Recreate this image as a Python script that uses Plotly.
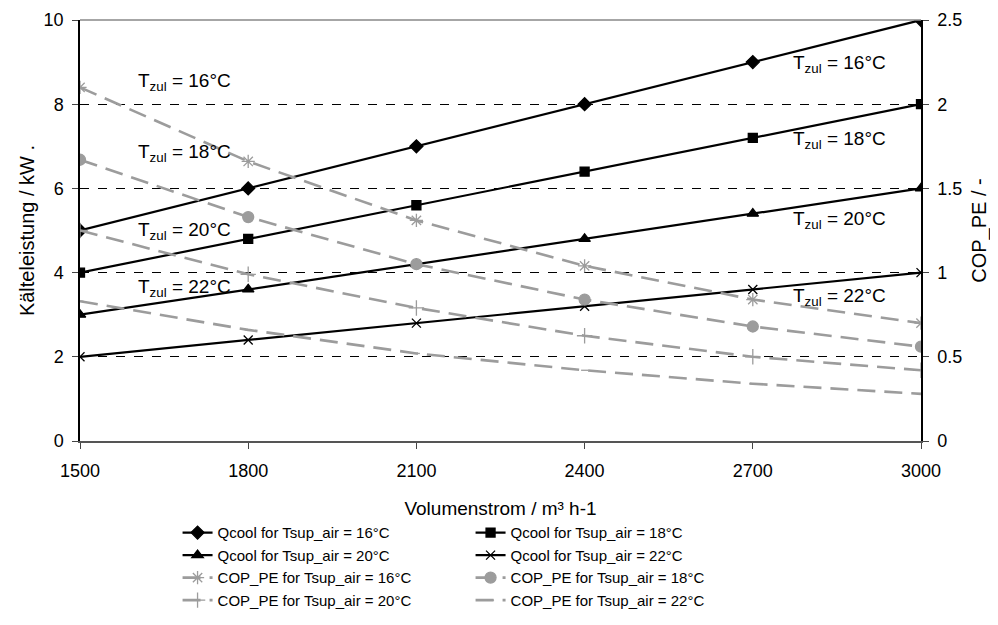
import plotly.graph_objects as go

volumenstrom = [1500, 1800, 2100, 2400, 2700, 3000]

qcool_16 = [5.0, 6.0, 7.0, 8.0, 9.0, 10.0]
qcool_18 = [4.0, 4.8, 5.6, 6.4, 7.2, 8.0]
qcool_20 = [3.0, 3.6, 4.2, 4.8, 5.4, 6.0]
qcool_22 = [2.0, 2.4, 2.8, 3.2, 3.6, 4.0]

cop_16 = [2.10, 1.66, 1.31, 1.04, 0.84, 0.70]
cop_18 = [1.67, 1.33, 1.05, 0.84, 0.68, 0.56]
cop_20 = [1.25, 0.99, 0.79, 0.625, 0.50, 0.42]
cop_22 = [0.83, 0.66, 0.52, 0.42, 0.34, 0.28]

left_ticks = [0, 2, 4, 6, 8, 10]
right_ticks = [0, 0.5, 1, 1.5, 2, 2.5]
x_ticks = [1500, 1800, 2100, 2400, 2700, 3000]

FONT = "Liberation Sans, Arial, sans-serif"
GREY = "#9c9c9c"

fig = go.Figure()

q_series = [
    ("Qcool for Tsup_air = 16°C", qcool_16, "diamond", 10),
    ("Qcool for Tsup_air = 18°C", qcool_18, "square", 9),
    ("Qcool for Tsup_air = 20°C", qcool_20, "triangle-up", 10),
    ("Qcool for Tsup_air = 22°C", qcool_22, "x-thin", 9),
]
c_series = [
    ("COP_PE for Tsup_air = 16°C", cop_16, "asterisk", 11),
    ("COP_PE for Tsup_air = 18°C", cop_18, "circle", 11),
    ("COP_PE for Tsup_air = 20°C", cop_20, "cross-thin", 11),
    ("COP_PE for Tsup_air = 22°C", cop_22, "line-ew", 5),
]

for name, vals, sym, sz in q_series:
    fig.add_trace(go.Scatter(
        x=volumenstrom, y=vals, name=name, mode="lines+markers",
        line=dict(color="black", width=2.2),
        marker=dict(symbol=sym, size=sz, color="black",
                    line=dict(color="black", width=1.3)),
        yaxis="y",
    ))
for name, vals, sym, sz in c_series:
    fig.add_trace(go.Scatter(
        x=volumenstrom, y=vals, name=name, mode="lines+markers",
        line=dict(color=GREY, width=2.6, dash="18px,9px"),
        marker=dict(symbol=sym, size=sz, color=GREY,
                    line=dict(color=GREY, width=1.3)),
        yaxis="y2",
    ))

# labels
left_labels = [("16", 8.52), ("18", 6.83), ("20", 4.98), ("22", 3.64)]
right_labels = [("16", 8.95), ("18", 7.14), ("20", 5.24), ("22", 3.43)]
for t, yv in left_labels:
    fig.add_annotation(x=1686, y=yv, xref="x", yref="y",
                       text=f"T<sub>zul</sub> = {t}°C", showarrow=False,
                       font=dict(size=19, color="black", family=FONT),
                       xanchor="center", yanchor="middle")
for t, yv in right_labels:
    fig.add_annotation(x=2854, y=yv, xref="x", yref="y",
                       text=f"T<sub>zul</sub> = {t}°C", showarrow=False,
                       font=dict(size=19, color="black", family=FONT),
                       xanchor="center", yanchor="middle")

fig.update_layout(
    width=998, height=625,
    margin=dict(l=72, r=85, t=12, b=192),
    paper_bgcolor="white", plot_bgcolor="white",
    font=dict(family=FONT, size=18, color="black"),
    xaxis=dict(
        range=[1500, 3000], tickvals=x_ticks, ticks="outside", ticklen=6,
        tickcolor="#444", showline=True, linecolor="#555", linewidth=1.5,
        mirror=False, showgrid=False, zeroline=False, automargin=False,
        ticklabelstandoff=7,
        title=dict(text="Volumenstrom / m³ h-1", font=dict(size=19), standoff=21),
        tickfont=dict(size=18),
    ),
    yaxis=dict(
        range=[0, 10], tickvals=left_ticks, ticks="outside", ticklen=6,
        tickcolor="#444", showline=True, linecolor="black", linewidth=1.5,
        showgrid=True, gridcolor="black", gridwidth=1, griddash="dash",
        zeroline=False, automargin=False, ticklabelstandoff=5,
        title=dict(text="Kälteleistung / kW .", font=dict(size=20), standoff=4),
        tickfont=dict(size=18),
    ),
    yaxis2=dict(
        range=[0, 2.5], tickvals=right_ticks, ticks="outside", ticklen=6,
        tickcolor="#444", showline=True, linecolor="black", linewidth=1.5,
        overlaying="y", side="right", showgrid=False, zeroline=False,
        automargin=False, ticklabelstandoff=5,
        title=dict(text="COP_PE / -", font=dict(size=20), standoff=11),
        tickfont=dict(size=18),
    ),
    legend=dict(
        orientation="h", x=0.116, y=-0.179, xanchor="left", yanchor="top",
        entrywidth=248, font=dict(size=15, family=FONT), tracegroupgap=0,
        itemwidth=30, traceorder="normal",
    ),
    showlegend=True,
)

fig.add_shape(type="line", xref="paper", yref="paper", x0=0, x1=1, y0=1, y1=1,
              line=dict(color="#888", width=1.5))

fig.write_html("out.html")
